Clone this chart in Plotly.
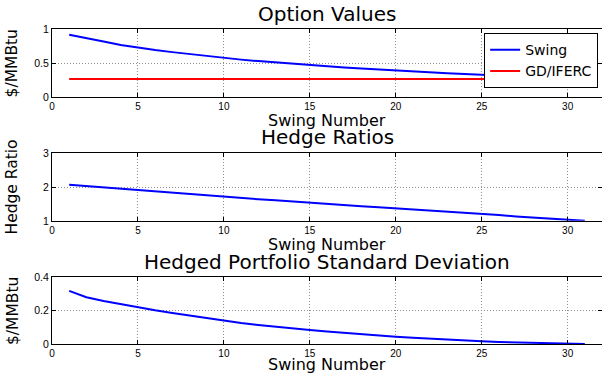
import plotly.graph_objects as go

swing_number = list(range(1, 32))
swing_value = [0.915, 0.86, 0.815, 0.765, 0.725, 0.69, 0.66, 0.63, 0.60, 0.572,
               0.55, 0.528, 0.507, 0.487, 0.468, 0.451, 0.434, 0.418, 0.403, 0.389,
               0.375, 0.362, 0.350, 0.339, 0.328, 0.317, 0.306, 0.295, 0.284, 0.274, 0.265]
gd_iferc_value = [0.265] * 31
hedge_ratio = [2.07, 2.03, 1.99, 1.94, 1.90, 1.86, 1.82, 1.79, 1.75, 1.71,
               1.68, 1.64, 1.61, 1.57, 1.54, 1.50, 1.47, 1.43, 1.40, 1.37,
               1.33, 1.30, 1.27, 1.23, 1.20, 1.17, 1.13, 1.10, 1.07, 1.04, 1.00]
hedged_sd = [0.318, 0.28, 0.258, 0.238, 0.22, 0.202, 0.186, 0.17, 0.154, 0.139,
             0.126, 0.114, 0.103, 0.093, 0.084, 0.075, 0.066, 0.058, 0.050, 0.043,
             0.037, 0.031, 0.026, 0.021, 0.016, 0.012, 0.009, 0.006, 0.003, 0.001, 0.0]

x_ticks = [0, 5, 10, 15, 20, 25, 30]
y1_ticks = [0, 0.5, 1]
y1_ticklabels = ["0", "0.5", "1"]
y2_ticks = [1, 2, 3]
y3_ticks = [0, 0.2, 0.4]
y3_ticklabels = ["0", "0.2", "0.4"]

FONT = "Liberation Sans, Arial, Helvetica, sans-serif"
WIDE = "DejaVu Sans, Verdana, sans-serif"

fig = go.Figure()
fig.add_trace(go.Scatter(x=swing_number, y=swing_value, mode="lines", name="Swing",
                         line=dict(color="#0000ff", width=2), xaxis="x", yaxis="y"))
fig.add_trace(go.Scatter(x=swing_number, y=gd_iferc_value, mode="lines", name="GD/IFERC",
                         line=dict(color="#ff0000", width=2), xaxis="x", yaxis="y"))
fig.add_trace(go.Scatter(x=swing_number, y=hedge_ratio, mode="lines", showlegend=False,
                         line=dict(color="#0000ff", width=2), xaxis="x2", yaxis="y2"))
fig.add_trace(go.Scatter(x=swing_number, y=hedged_sd, mode="lines", showlegend=False,
                         line=dict(color="#0000ff", width=2), xaxis="x3", yaxis="y3"))

common_x = dict(range=[0, 32], tickvals=x_ticks, ticks="inside", ticklen=4, tickcolor="black",
                showline=True, linecolor="black", linewidth=1, mirror="allticks",
                showgrid=True, gridcolor="#909090", griddash="1px,2px", gridwidth=1,
                zeroline=False, tickfont=dict(size=10, color="black", family=FONT))
common_y = dict(ticks="inside", ticklen=4, tickcolor="black",
                showline=True, linecolor="black", linewidth=1, mirror="allticks",
                showgrid=True, gridcolor="#909090", griddash="1px,2px", gridwidth=1,
                zeroline=False, tickfont=dict(size=10.5, color="black", family=FONT))

fig.update_layout(
    width=602, height=374,
    margin=dict(l=52, r=0, t=29, b=30),
    paper_bgcolor="white", plot_bgcolor="white",
    font=dict(family=FONT, color="black"),
    xaxis=dict(domain=[0, 1], anchor="y", **common_x),
    yaxis=dict(domain=[0.784, 1.0], anchor="x", range=[0, 1], tickvals=y1_ticks,
               ticktext=y1_ticklabels, **common_y),
    xaxis2=dict(domain=[0, 1], anchor="y2", **common_x),
    yaxis2=dict(domain=[0.391, 0.605], anchor="x2", range=[1, 3], tickvals=y2_ticks, **common_y),
    xaxis3=dict(domain=[0, 1], anchor="y3", **common_x),
    yaxis3=dict(domain=[0.0, 0.212], anchor="x3", range=[0, 0.4], tickvals=y3_ticks,
                ticktext=y3_ticklabels, **common_y),
    legend=dict(x=0.993, y=0.987, xanchor="right", yanchor="top",
                bordercolor="black", borderwidth=1, bgcolor="white",
                font=dict(size=14, family=WIDE, color="black"), tracegroupgap=0),
    showlegend=True,
)

def ann(text, x, y, size, angle=0):
    fig.add_annotation(text=text, x=x, y=y, xref="paper", yref="paper",
                       xanchor="center", yanchor="middle", showarrow=False,
                       textangle=angle, font=dict(size=size, family=WIDE, color="black"))

ann("Option Values", 0.5, 1.048, 20)
ann("Hedge Ratios", 0.5, 0.657, 20)
ann("Hedged Portfolio Standard Deviation", 0.5, 0.260, 20)
ann("Swing Number", 0.5, 0.711, 16)
ann("Swing Number", 0.5, 0.316, 16)
ann("Swing Number", 0.5, -0.066, 16)
ann("$/MMBtu", -0.072, 0.892, 15.5, -90)
ann("Hedge Ratio", -0.072, 0.498, 15.5, -90)
ann("$/MMBtu", -0.072, 0.106, 15.5, -90)

fig.write_html("out.html", config={"displayModeBar": False},
               post_script="document.body.style.margin='0';document.body.style.overflow='hidden';")
